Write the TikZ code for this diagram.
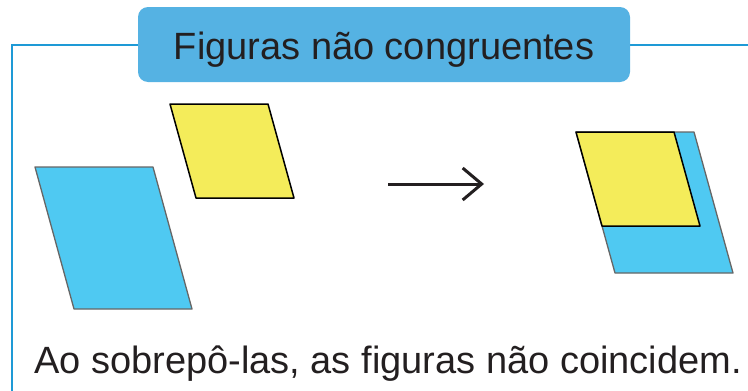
\documentclass[tikz,border=0pt]{standalone}
\usepackage{fontspec}
\setmainfont{Liberation Sans}
\usetikzlibrary{arrows.meta}
\definecolor{frameblue}{HTML}{1E9AD6}
\definecolor{titleblue}{HTML}{55B2E3}
\definecolor{figblue}{HTML}{4FC9F2}
\definecolor{figyellow}{HTML}{F4EC5A}
\definecolor{inkgray}{HTML}{231F20}

\begin{document}
\begin{tikzpicture}[
    x=1pt,y=-1pt,>=Stealth,
    framing/.style={draw=frameblue,line width=2.2pt},
    titlebox/.style={fill=titleblue,rounded corners=10pt,inner sep=0pt,
        text height=29.5pt,text depth=0pt,
        minimum width=492pt,minimum height=75pt,text=inkgray,font=\fontsize{38}{42}\selectfont},
    bluefig/.style={fill=figblue,draw=black!60,line width=1.3pt,line join=round},
    yellowfig/.style={fill=figyellow,draw=black,line width=1.5pt,line join=round},
    moveto/.style={-{Straight Barb[length=19pt,width=32pt,line width=3pt]},line width=3pt,inkgray}
]
\useasboundingbox (0,0) rectangle (748,391);
% Frame and heading.
\draw[framing] (12,391) -- (12,45) -- (748,45);
\node[titlebox] (title) at (384,44.5) {Figuras não congruentes};
% The two figures, apart.
\filldraw[bluefig] (35,167) -- (153,167) -- (192,309) -- (74,309) -- cycle;
\filldraw[yellowfig] (170,104) -- (268,104) -- (294,198) -- (196,198) -- cycle;
% Moving one onto the other.
\coordinate (from) at (388,184);
\coordinate (to) at (484,184);
\draw[moveto] (from) -- (to);
% The figures laid on top of each other.
\filldraw[bluefig] (576,132) -- (694,132) -- (733,273) -- (615,273) -- cycle;
\filldraw[yellowfig] (576,132) -- (674,132) -- (700,226) -- (602,226) -- cycle;
% Conclusion.
\node[anchor=base west,text=inkgray,font=\fontsize{38}{42}\selectfont,inner sep=0pt]
    (remark) at (34,373.3) {Ao sobrepô-las, as figuras não coincidem.};
\end{tikzpicture}
\end{document}
